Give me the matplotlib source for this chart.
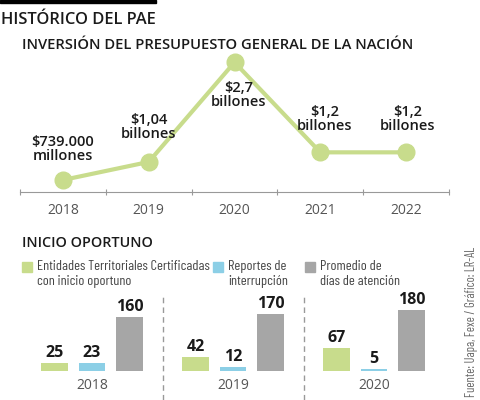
import matplotlib.pyplot as plt
import numpy as np
from matplotlib.patches import Rectangle

# data ---------------------------------------------------------------------------------
years = ["2018", "2019", "2020", "2021", "2022"]
inversion = [0.739, 1.04, 2.7, 1.2, 1.2]  # billones de pesos
inversion_labels = [
    "$739.000\nmillones",
    "$1,04\nbillones",
    "$2,7\nbillones",
    "$1,2\nbillones",
    "$1,2\nbillones",
]

bar_years = ["2018", "2019", "2020"]
entidades = [25, 42, 67]
reportes = [23, 12, 5]
promedio = [160, 170, 180]
series_names = [
    "Entidades Territoriales Certificadas\ncon inicio oportuno",
    "Reportes de\ninterrupción",
    "Promedio de\ndías de atención",
]

green = "#c8dc8c"
blue = "#8ccfe6"
gray = "#a6a6a6"
txt = "#1a1a1a"
cond = ["Barlow Condensed", "DejaVu Sans"]
reg = ["Open Sans", "DejaVu Sans"]
bold = ["Open Sans", "DejaVu Sans"]

fig = plt.figure(figsize=(4.8, 4.0), dpi=100)

# header ------------------------------------------------------------------------------
fig.patches.append(Rectangle((0, 0.992), 0.325, 0.008, transform=fig.transFigure,
                             color="black"))
fig.text(0.003, 0.951, "HISTÓRICO DEL PAE", family=bold, weight="semibold",
         fontsize=11.9, va="center", color=txt)
fig.text(0.045, 0.887, "INVERSIÓN DEL PRESUPUESTO GENERAL DE LA NACIÓN", family=bold,
         weight="semibold", fontsize=10.6, va="center", color=txt)

# line chart --------------------------------------------------------------------------
ax = fig.add_axes([20 / 480, 0.52, 429 / 480, 0.3425])
x = np.arange(len(years))
ax.plot(x, inversion, color=green, lw=3, marker="o", ms=12, zorder=3, clip_on=False)
label_dy = [0.52, 0.58, -0.55, 0.55, 0.55]
label_dx = [0, 0, 0.05, 0.05, 0.02]
for i, (v, lab) in enumerate(zip(inversion, inversion_labels)):
    ax.text(x[i] + label_dx[i], v + label_dy[i], lab, ha="center", va="center",
            family=bold, weight="semibold", fontsize=10.5, color=txt,
            linespacing=1.0)
ax.set_xlim(-0.5, 4.5)
ax.set_ylim(0.539, 2.822)
ax.set_xticks(np.arange(-0.5, 5, 1))
ax.set_xticklabels([])
ax.tick_params(axis="x", length=4, color="#999999", direction="inout")
ax.set_yticks([])
for s in ["top", "right", "left"]:
    ax.spines[s].set_visible(False)
ax.spines["bottom"].set_color("#999999")
for i, y in enumerate(years):
    ax.text(x[i], -0.135, y, transform=ax.get_xaxis_transform(), ha="center",
            va="center", fontsize=10, color="#555555", family=reg)

# bars --------------------------------------------------------------------------------
fig.text(0.045, 0.392, "INICIO OPORTUNO", family=bold, weight="semibold",
         fontsize=10.4, va="center", color=txt)

leg_x = [22, 213, 305]
for lx, name, c in zip(leg_x, series_names, [green, blue, gray]):
    fig.patches.append(Rectangle((lx / 480, 1 - 272 / 400), 10 / 480, 10 / 400,
                                 transform=fig.transFigure, color=c))
    fig.text((lx + 15) / 480, 1 - 260 / 400, name, family=cond,
             fontsize=10.3, va="top", color="#444444", linespacing=1.2)

bx = fig.add_axes([22 / 480, 0.0725, 428 / 480, 0.2025])
group_gap = 3.76
g = np.arange(len(bar_years)) * group_gap
w = 0.71
for off, vals, c in zip([-1, 0, 1], [entidades, reportes, promedio], [green, blue, gray]):
    bx.bar(g + off, vals, width=w, color=c)
    for xi, v in zip(g + off, vals):
        bx.text(xi, v + 6, str(v), ha="center", va="bottom", family=bold,
                weight="bold", fontsize=11.5, color=txt)
for sep in (g[:-1] + g[1:]) / 2:
    bx.axvline(sep, ymin=-0.36, ymax=0.91, color="#999999", lw=1, ls=(0, (4, 3)),
               clip_on=False)
bx.set_xlim((22 - 92) / 37.5, (450 - 92) / 37.5)
bx.set_ylim(0, 240)
bx.set_xticks(g)
bx.set_xticklabels(bar_years, family=reg, fontsize=10, color="#555555")
bx.tick_params(axis="x", length=0, pad=5)
bx.set_yticks([])
for s in bx.spines.values():
    s.set_visible(False)

fig.text(0.983, 0.195, "Fuente: Uapa, Fexe / Gráfico: LR-AL", rotation=90,
         family=cond, fontsize=9, color="#666666", ha="center", va="center")

fig.savefig("out.png", dpi=100)
